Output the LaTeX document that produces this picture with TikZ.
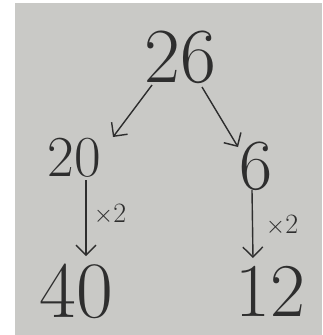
\documentclass[tikz,border=0pt]{standalone}
\usetikzlibrary{arrows.meta}
\definecolor{board}{HTML}{C9C9C6}
\definecolor{ink}{HTML}{2E2E2E}
\begin{document}
\begin{tikzpicture}[x=1pt,y=-1pt,
  num/.style={text=ink,font=\fontsize{#1}{#1}\selectfont,inner sep=0pt},
  lab/.style={text=ink,font=\fontsize{28}{28}\selectfont,inner sep=0pt},
  arr/.style={draw=ink,line width=1.4pt,-{Straight Barb[length=10pt,width=20pt]}}]
\useasboundingbox (0,0) rectangle (322,335);
\fill[white] (0,0) rectangle (322,335);
\fill[board] (15,3) rectangle (322,335);
\node[num=78] (a) at (180,57) {26};
\node[num=58] (b) at (74,158) {20};
\node[num=72] (c) at (256,166) {6};
\node[num=80] (d) at (76,291) {40};
\node[num=76] (e) at (270,291) {12};
\coordinate (a1) at (152,85);
\coordinate (b1) at (113,137);
\coordinate (a2) at (202,87);
\coordinate (c1) at (238,147);
\coordinate (b2) at (86,180);
\coordinate (d1) at (86,256);
\coordinate (c2) at (252,190);
\coordinate (e1) at (253,258);
\draw[arr] (a1) -- (b1);
\draw[arr] (a2) -- (c1);
\draw[arr] (b2) -- (d1);
\draw[arr] (c2) -- (e1);
\node[lab] (l1) at (110,214) {$\times$2};
\node[lab] (l2) at (282,225) {$\times$2};
\end{tikzpicture}
\end{document}
